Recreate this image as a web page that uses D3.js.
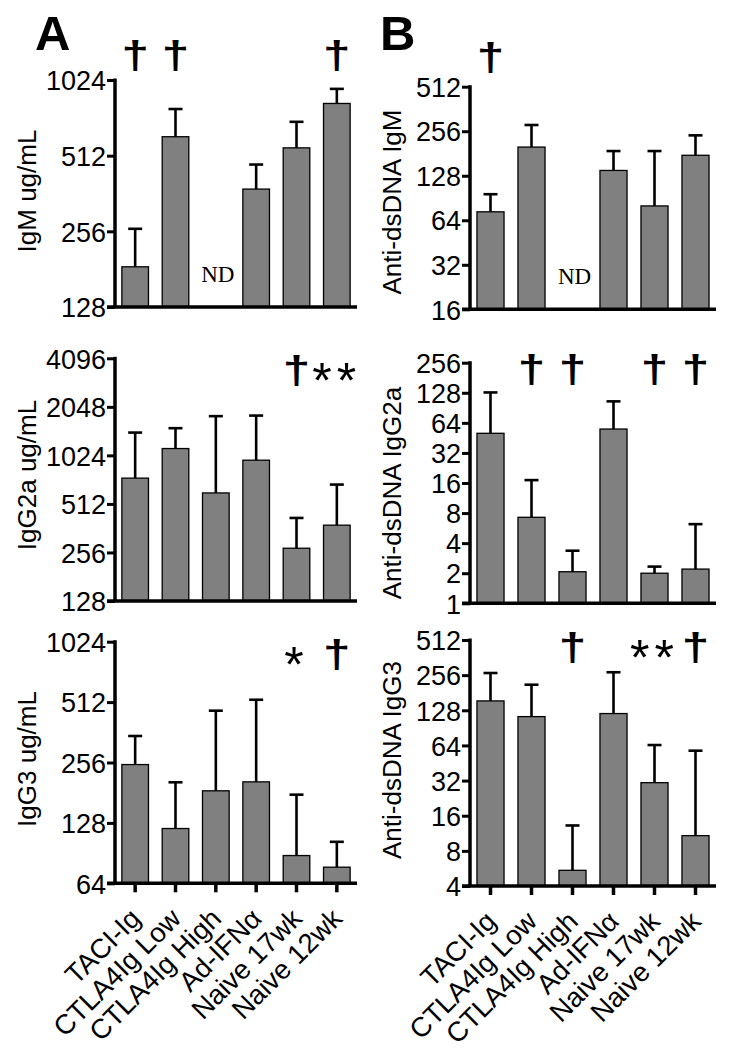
<!DOCTYPE html>
<html><head><meta charset="utf-8">
<script src="https://cdn.jsdelivr.net/npm/d3@7"></script>
<style>body{margin:0;background:#fff}svg{display:block}</style>
</head><body><svg id="chart" width="733" height="1050"></svg>
<script>
const categories = ["TACI-Ig","CTLA4Ig Low","CTLA4Ig High","Ad-IFNα","Naive 17wk","Naive 12wk"];

// Panel A – total Ig (ug/mL)
const igmMean   = [185, 609, null, 377, 550, 826];
const igmUpper  = [262, 785, null, 472, 698, 944];
const igg2aMean  = [740, 1129, 599, 956, 272, 378];
const igg2aUpper = [1418, 1510, 1793, 1808, 419, 675];
const igg3Mean   = [250, 120, 185, 205, 88, 77];
const igg3Upper  = [347, 204, 464, 526, 177, 103];

// Panel B – anti-dsDNA
const dsIgmMean   = [73, 200, null, 139, 80, 176];
const dsIgmUpper  = [96, 282, null, 188, 188, 240];
const dsIgg2aMean  = [50.3, 7.26, 2.07, 55.5, 2.0, 2.2];
const dsIgg2aUpper = [129, 17.1, 3.36, 105, 2.33, 6.2];
const dsIgg3Mean   = [154, 113, 5.45, 120, 30.7, 10.8];
const dsIgg3Upper  = [267, 212, 13.2, 271, 64.5, 57.7];

// tick labels
const ticksIgm   = [128, 256, 512, 1024];
const ticksIgg2a = [128, 256, 512, 1024, 2048, 4096];
const ticksIgg3  = [64, 128, 256, 512, 1024];
const ticksDsIgm   = [16, 32, 64, 128, 256, 512];
const ticksDsIgg2a = [1, 2, 4, 8, 16, 32, 64, 128, 256];
const ticksDsIgg3  = [4, 8, 16, 32, 64, 128, 256, 512];

// significance markers
const marksIgm   = ["†", "†", "", "", "", "†"];
const marksIgg2a = ["", "", "", "", "†", "**"];
const marksIgg3  = ["", "", "", "", "*", "†"];
const marksDsIgm   = ["†", "", "", "", "", ""];
const marksDsIgg2a = ["", "†", "†", "", "†", "†"];
const marksDsIgg3  = ["", "", "†", "", "**", "†"];

const yLabels = ["IgM ug/mL", "IgG2a ug/mL", "IgG3 ug/mL", "Anti-dsDNA IgM", "Anti-dsDNA IgG2a", "Anti-dsDNA IgG3"];

// layout (pixels) – not data
const colA = {x0: 115, x1: 357, labelX: 36};
const colB = {x0: 470, x1: 716, labelX: 401};
const panels = [
  {col: colA, top: 80,    bot: 307,   mean: igmMean,   upper: igmUpper,   ticks: ticksIgm,   marks: marksIgm,   label: yLabels[0], labelY: 191, markY: 56,  xlabels: false},
  {col: colA, top: 358.3, bot: 601,   mean: igg2aMean, upper: igg2aUpper, ticks: ticksIgg2a, marks: marksIgg2a, label: yLabels[1], labelY: 475, markY: 371, xlabels: false},
  {col: colA, top: 641.7, bot: 883.3, mean: igg3Mean,  upper: igg3Upper,  ticks: ticksIgg3,  marks: marksIgg3,  label: yLabels[2], labelY: 759, markY: 655, xlabels: true},
  {col: colB, top: 86.7,  bot: 309.3, mean: dsIgmMean,   upper: dsIgmUpper,   ticks: ticksDsIgm,   marks: marksDsIgm,   label: yLabels[3], labelY: 202, markY: 58,  xlabels: false},
  {col: colB, top: 362.7, bot: 603.3, mean: dsIgg2aMean, upper: dsIgg2aUpper, ticks: ticksDsIgg2a, marks: marksDsIgg2a, label: yLabels[4], labelY: 493, markY: 370, xlabels: false},
  {col: colB, top: 640,   bot: 886,   mean: dsIgg3Mean,  upper: dsIgg3Upper,  ticks: ticksDsIgg3,  marks: marksDsIgg3,  label: yLabels[5], labelY: 760, markY: 648, xlabels: true}
];

const FONT = "'Liberation Sans', Arial, Helvetica, sans-serif";
const svg = d3.select("#chart");
svg.append("rect").attr("width", 733).attr("height", 1050).attr("fill", "#fff");

// panel letters
svg.append("text").attr("x", 35).attr("y", 50).text("A")
  .attr("font-family", FONT).attr("font-weight", "bold").attr("font-size", 49);
svg.append("text").attr("x", 380).attr("y", 50).text("B")
  .attr("font-family", FONT).attr("font-weight", "bold").attr("font-size", 49);

panels.forEach(p => {
  const g = svg.append("g");
  const x = d3.scaleBand().domain(categories).range([p.col.x0, p.col.x1])
    .paddingInner(0.34).paddingOuter(0.17);
  const y = d3.scaleLog().base(2)
    .domain([p.ticks[0], p.ticks[p.ticks.length - 1]])
    .range([p.bot, p.top]);

  const rows = categories.map((c, i) => ({c, m: p.mean[i], u: p.upper[i], mark: p.marks[i]}));

  // bars
  g.selectAll("rect.bar").data(rows.filter(d => d.m != null)).join("rect")
    .attr("class", "bar")
    .attr("x", d => x(d.c)).attr("width", x.bandwidth())
    .attr("y", d => y(d.m)).attr("height", d => p.bot - y(d.m))
    .attr("fill", "#808080").attr("stroke", "#000").attr("stroke-width", 1.3);

  // error bars
  const eb = g.selectAll("g.err").data(rows.filter(d => d.m != null)).join("g").attr("class", "err");
  eb.append("line")
    .attr("x1", d => x(d.c) + x.bandwidth() / 2).attr("x2", d => x(d.c) + x.bandwidth() / 2)
    .attr("y1", d => y(d.m)).attr("y2", d => y(d.u))
    .attr("stroke", "#000").attr("stroke-width", 2.6);
  eb.append("line")
    .attr("x1", d => x(d.c) + x.bandwidth() / 2 - 7).attr("x2", d => x(d.c) + x.bandwidth() / 2 + 7)
    .attr("y1", d => y(d.u)).attr("y2", d => y(d.u))
    .attr("stroke", "#000").attr("stroke-width", 2.6);

  // ND
  rows.filter(d => d.m == null).forEach(d => {
    g.append("text").attr("x", x(d.c) + x.bandwidth() / 2 + 2).attr("y", p.bot - 25)
      .attr("text-anchor", "middle").attr("font-family", "'Liberation Serif', 'Times New Roman', serif")
      .attr("font-size", 23).text("ND");
  });

  // y axis
  const ya = g.append("g").attr("transform", `translate(${p.col.x0},0)`)
    .call(d3.axisLeft(y).tickValues(p.ticks).tickFormat(d3.format("d")).tickSize(8).tickSizeOuter(0).tickPadding(1));
  ya.select(".domain").attr("stroke-width", 3.5).attr("d", `M0,${p.top - 1.5}V${p.bot}`);
  ya.selectAll(".tick line").attr("stroke-width", 3);
  ya.selectAll(".tick text").attr("font-family", FONT).attr("font-size", 27).attr("fill", "#000").attr("dy", "0.36em");

  // x axis
  const xa = g.append("g").attr("transform", `translate(0,${p.bot})`)
    .call(d3.axisBottom(x).tickSize(p.xlabels ? 9 : 0).tickSizeOuter(0).tickFormat(p.xlabels ? null : ""));
  xa.select(".domain").attr("stroke-width", 3.5).attr("d", `M${p.col.x0 - 8},0H${p.col.x1}`);
  xa.selectAll(".tick line").attr("stroke-width", 3.5);
  if (p.xlabels) {
    xa.selectAll(".tick text")
      .attr("font-family", FONT).attr("font-size", 27.5).attr("fill", "#000")
      .attr("text-anchor", "end").attr("dy", 0).attr("y", 0)
      .attr("transform", "translate(7,37) rotate(-45)");
  } else {
    xa.selectAll(".tick text").remove();
  }

  // y label
  g.append("text")
    .attr("transform", `translate(${p.col.labelX},${p.labelY}) rotate(-90)`)
    .attr("text-anchor", "middle").attr("font-family", FONT).attr("font-size", 26)
    .text(p.label);

  // significance marks
  rows.filter(d => d.mark).forEach(d => {
    const cx = x(d.c) + x.bandwidth() / 2;
    if (d.mark.includes("*")) {
      g.append("text")
        .attr("x", cx).attr("y", p.markY + 27)
        .attr("text-anchor", "middle").attr("font-family", FONT)
        .attr("font-size", 50).attr("letter-spacing", 5)
        .text(d.mark);
    } else {
      g.append("text")
        .attr("transform", `translate(${cx},${p.markY + 11.5}) scale(1.3,1)`)
        .attr("text-anchor", "middle").attr("font-family", FONT)
        .attr("font-weight", "bold").attr("font-size", 38)
        .text(d.mark);
    }
  });
});
</script></body></html>
